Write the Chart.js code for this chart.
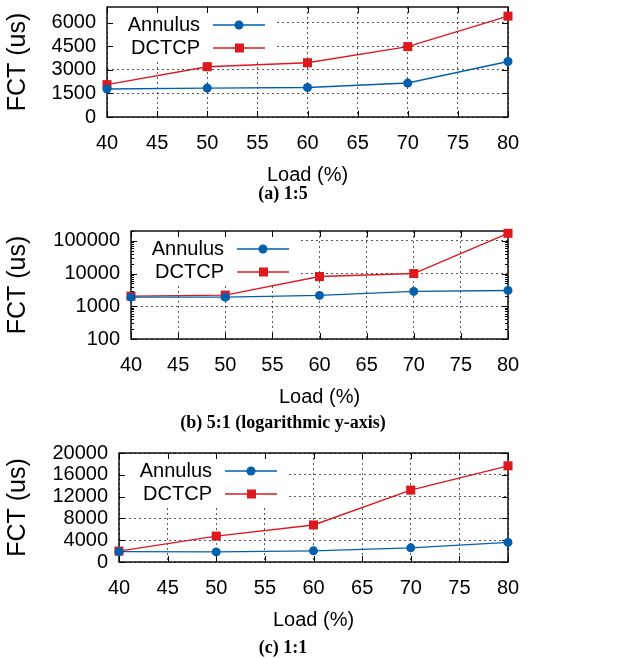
<!DOCTYPE html>
<html>
<head>
<meta charset="utf-8">
<script src="https://cdn.jsdelivr.net/npm/chart.js@4.4.1/dist/chart.umd.min.js"></script>
<style>
  body { margin: 0; background: #fff; }
  #page { position: relative; width: 620px; height: 658px; }
  .plot { position: absolute; left: 0; width: 620px; }
  .cap { position: absolute; left: 0; width: 566px; text-align: center; font: bold 18px "Liberation Serif", serif; line-height: 20px; color: #000; }
</style>
</head>
<body>
<div id="page">
  <div class="plot" style="top:0;height:191px"><canvas id="chartA"></canvas></div>
  <div class="cap" style="top:183px">(a) 1:5</div>
  <div class="plot" style="top:220px;height:193px"><canvas id="chartB"></canvas></div>
  <div class="cap" style="top:412px">(b) 5:1 (logarithmic y-axis)</div>
  <div class="plot" style="top:443px;height:193px"><canvas id="chartC"></canvas></div>
  <div class="cap" style="top:637px">(c) 1:1</div>
</div>
<script>
// load levels and x ticks
const loads  = [40, 50, 60, 70, 80];
const xTicks = [40, 45, 50, 55, 60, 65, 70, 75, 80];

// (a) 1:5
const annulusA = [1780, 1840, 1880, 2160, 3530];
const dctcpA   = [2060, 3200, 3450, 4480, 6420];
const yTicksA  = [0, 1500, 3000, 4500, 6000];

// (b) 5:1, log axis
const annulusB = [1900, 1900, 2150, 2850, 3050];
const dctcpB   = [2050, 2200, 8100, 10000, 170000];
const yTicksB  = [100, 1000, 10000, 100000];

// (c) 1:1
const annulusC = [1900, 1850, 2050, 2600, 3600];
const dctcpC   = [2000, 4750, 6800, 13200, 17650];
const yTicksC  = [0, 4000, 8000, 12000, 16000, 20000];

const BLUE = "#0060ad", RED = "#dd181f";
const SANS = '"Liberation Sans", Arial, sans-serif';
const gridColor = "rgba(0,0,0,0.65)";

// gnuplot-ish frame: key box, inner tick marks, solid border
const gnuFrame = {
  id: "gnuFrame",
  beforeDatasetsDraw(chart) {
    const { ctx, chartArea: a, scales: { x, y } } = chart;
    ctx.save();
    ctx.fillStyle = "#fff";
    ctx.fillRect(a.left + 1, a.top + 1, 168, 52);

    ctx.strokeStyle = "#000";
    ctx.lineWidth = 1;
    ctx.beginPath();
    x.ticks.forEach(t => {
      const px = Math.round(x.getPixelForValue(t.value)) + 0.5;
      ctx.moveTo(px, a.bottom); ctx.lineTo(px, a.bottom - 6);
      ctx.moveTo(px, a.top);    ctx.lineTo(px, a.top + 6);
    });
    y.ticks.forEach(t => {
      const py = Math.round(y.getPixelForValue(t.value)) + 0.5;
      ctx.moveTo(a.left, py);  ctx.lineTo(a.left + 6, py);
      ctx.moveTo(a.right, py); ctx.lineTo(a.right - 6, py);
    });
    if (y.type === "logarithmic") {
      y.ticks.forEach(t => {
        for (let k = 2; k <= 9; k++) {
          const v = t.value * k;
          if (v > y.max) break;
          const py = Math.round(y.getPixelForValue(v)) + 0.5;
          ctx.moveTo(a.left, py);  ctx.lineTo(a.left + 3, py);
          ctx.moveTo(a.right, py); ctx.lineTo(a.right - 3, py);
        }
      });
    }
    ctx.stroke();

    ctx.lineWidth = 1.4;
    ctx.strokeRect(a.left, a.top, a.right - a.left, a.bottom - a.top);

    // key: text, then line sample with marker
    ctx.font = "20px " + SANS;
    ctx.textAlign = "right";
    ctx.textBaseline = "middle";
    chart.data.datasets.forEach((ds, i) => {
      const ky = a.top + 18 + i * 23;
      ctx.fillStyle = "#000";
      ctx.fillText(ds.label, a.left + 93, ky);
      ctx.strokeStyle = ds.borderColor;
      ctx.lineWidth = 1.4;
      ctx.beginPath();
      ctx.moveTo(a.left + 106, ky); ctx.lineTo(a.left + 158, ky);
      ctx.stroke();
      ctx.fillStyle = ds.backgroundColor;
      if (ds.pointStyle === "rect") {
        ctx.fillRect(a.left + 128, ky - 4.5, 9, 9);
      } else {
        ctx.beginPath(); ctx.arc(a.left + 132, ky, 4.5, 0, Math.PI * 2); ctx.fill();
      }
    });
    ctx.restore();
  }
};

function pts(vals) {
  return loads.map((x, i) => ({ x, y: vals[i] }));
}

function makeChart(id, annulus, dctcp, yType, yMin, yMax, yTicks, padTop, plotLeft) {
  const ctx = document.getElementById(id).getContext("2d");
  return new Chart(ctx, {
    type: "line",
    data: {
      datasets: [
        { label: "Annulus", data: pts(annulus), borderColor: BLUE, backgroundColor: BLUE, borderWidth: 1.4,
          pointStyle: "circle", pointRadius: 4.5, pointBorderWidth: 0, clip: false },
        { label: "DCTCP", data: pts(dctcp), borderColor: RED, backgroundColor: RED, borderWidth: 1.4,
          pointStyle: "rect", pointRadius: 6.4, pointBorderWidth: 0, clip: false }
      ]
    },
    options: {
      responsive: true,
      maintainAspectRatio: false,
      animation: false,
      layout: { padding: { top: padTop, right: 112, left: 0, bottom: 0 } },
      plugins: { legend: { display: false }, tooltip: { enabled: false } },
      scales: {
        x: {
          type: "linear", min: 40, max: 80,
          afterBuildTicks: s => { s.ticks = xTicks.map(v => ({ value: v })); },
          afterFit: s => { s.height = 74; s.paddingLeft = 0; s.paddingRight = 0; },
          grid: { color: gridColor, drawTicks: false },
          border: { display: false, dash: [2, 3] },
          ticks: { padding: 14, autoSkip: false, color: "#000", maxRotation: 0, font: { family: SANS, size: 20 } },
          title: { display: true, text: "Load (%)", color: "#000", padding: { top: 0, bottom: 4 },
                   font: { family: SANS, size: 20, lineHeight: 1.2 } }
        },
        y: {
          type: yType, min: yMin, max: yMax,
          afterBuildTicks: s => { s.ticks = yTicks.map(v => ({ value: v })); },
          afterFit: s => { s.width = plotLeft; s.paddingTop = 0; s.paddingBottom = 0; },
          grid: { color: gridColor, drawTicks: false },
          border: { display: false, dash: [2, 3] },
          ticks: { padding: 11, autoSkip: false, color: "#000", font: { family: SANS, size: 20 }, callback: v => String(v) },
          title: { display: true, text: "FCT (us)", color: "#000", padding: { top: 3, bottom: 0 },
                   font: { family: SANS, size: 25, lineHeight: 1.2 } }
        }
      }
    },
    plugins: [gnuFrame]
  });
}

makeChart("chartA", annulusA, dctcpA, "linear", 0, 7000, yTicksA, 7, 107);
makeChart("chartB", annulusB, dctcpB, "logarithmic", 100, 200000, yTicksB, 11, 131);
makeChart("chartC", annulusC, dctcpC, "linear", 0, 20000, yTicksC, 10, 119);
</script>
</body>
</html>
